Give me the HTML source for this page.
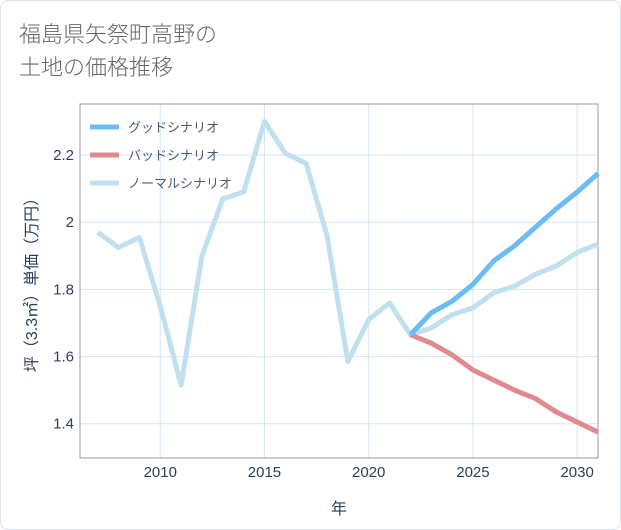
<!DOCTYPE html>
<html><head><meta charset="utf-8"><style>
body{margin:0;background:#fff;font-family:"Liberation Sans","Noto Sans CJK JP",sans-serif;}
#wrap{position:relative;width:619px;height:528px;border:1px solid #dde3ea;border-radius:8px;overflow:hidden;}
#title{position:absolute;left:18px;top:16px;font-size:22px;line-height:33px;color:#666;font-family:"Noto Sans CJK JP",sans-serif;font-weight:300;}
svg{position:absolute;left:0;top:0;}
</style></head><body>
<div id="wrap">
<div id="title">福島県矢祭町高野の<br>土地の価格推移</div>
<svg id="chart" width="621" height="530"></svg>
</div>
<script>
const years=[2007,2008,2009,2010,2011,2012,2013,2014,2015,2016,2017,2018,2019,2020,2021,2022,2023,2024,2025,2026,2027,2028,2029,2030,2031];
const normalVals=[1.97,1.925,1.955,1.75,1.515,1.9,2.07,2.09,2.3,2.205,2.175,1.96,1.585,1.71,1.76,1.665,1.685,1.725,1.745,1.79,1.81,1.845,1.87,1.91,1.935];
const forecastYears=[2022,2023,2024,2025,2026,2027,2028,2029,2030,2031];
const goodVals=[1.665,1.73,1.765,1.815,1.885,1.93,1.985,2.04,2.09,2.145];
const badVals=[1.665,1.64,1.605,1.56,1.53,1.5,1.475,1.435,1.405,1.375];
const xTicks=[2010,2015,2020,2025,2030];
const yTicks=[1.4,1.6,1.8,2.0,2.2];
const yTickLabels=["1.4","1.6","1.8","2","2.2"];
const seriesNames=["グッドシナリオ","バッドシナリオ","ノーマルシナリオ"];
const L=79,R=597,T=103,B=457;
const xs=y=>L+(y-2006.15)/(2031-2006.15)*(R-L);
const ys=v=>B-(v-1.298)/(2.352-1.298)*(B-T);
const svg=document.getElementById('chart');
const NS='http://www.w3.org/2000/svg';
function mk(t,a,p){const e=document.createElementNS(NS,t);for(const k in a)e.setAttribute(k,a[k]);(p||svg).appendChild(e);return e;}
xTicks.forEach((t,i)=>{const l=mk('line',{x1:xs(t),x2:xs(t),y1:T,y2:B,stroke:'#d3e6f0','stroke-width':1});


const tx=mk('text',{x:xs(t),y:476,'text-anchor':'middle','font-size':15,fill:'#2a3f5f'});tx.textContent=t;

});
yTicks.forEach((t,i)=>{const l=mk('line',{x1:L,x2:R,y1:ys(t),y2:ys(t),stroke:'#d3e6f0','stroke-width':1});


const tx=mk('text',{x:73,y:ys(t)+5,'text-anchor':'end','font-size':15,fill:'#2a3f5f'});tx.textContent=yTickLabels[i];

});
const fr=mk('rect',{x:L,y:T,width:R-L,height:B-T,fill:'none',stroke:'#999','stroke-width':1});


function line(xa,va,c,name){const p=mk('polyline',{points:xa.map((x,i)=>xs(x)+','+ys(va[i])).join(' '),fill:'none',stroke:c,'stroke-width':5,'stroke-linejoin':'round'});

}
line(years,normalVals,'#bfe0ec','normal-scenario-line');
line(forecastYears,badVals,'#e08a8f','bad-scenario-line');
line(forecastYears,goodVals,'#6bbcf5','good-scenario-line');
const cols=['#6bbcf5','#e08a8f','#bfe0ec'];
seriesNames.forEach((n,i)=>{const g=mk('g',{});


mk('line',{x1:89,x2:118,y1:126+i*28,y2:126+i*28,stroke:cols[i],'stroke-width':5},g);
const t=mk('text',{x:127,y:131+i*28,'font-size':13,fill:'#4a5a70'},g);t.textContent=n;});
const xt=mk('text',{x:338,y:513,'text-anchor':'middle','font-size':16,fill:'#2a3f5f'});xt.textContent='年';


const yt=mk('text',{x:0,y:0,'text-anchor':'middle','font-size':16,fill:'#2a3f5f',transform:'translate(36,280) rotate(-90)'});yt.textContent='坪（3.3㎡）単価（万円）';


</script>
</body></html>
